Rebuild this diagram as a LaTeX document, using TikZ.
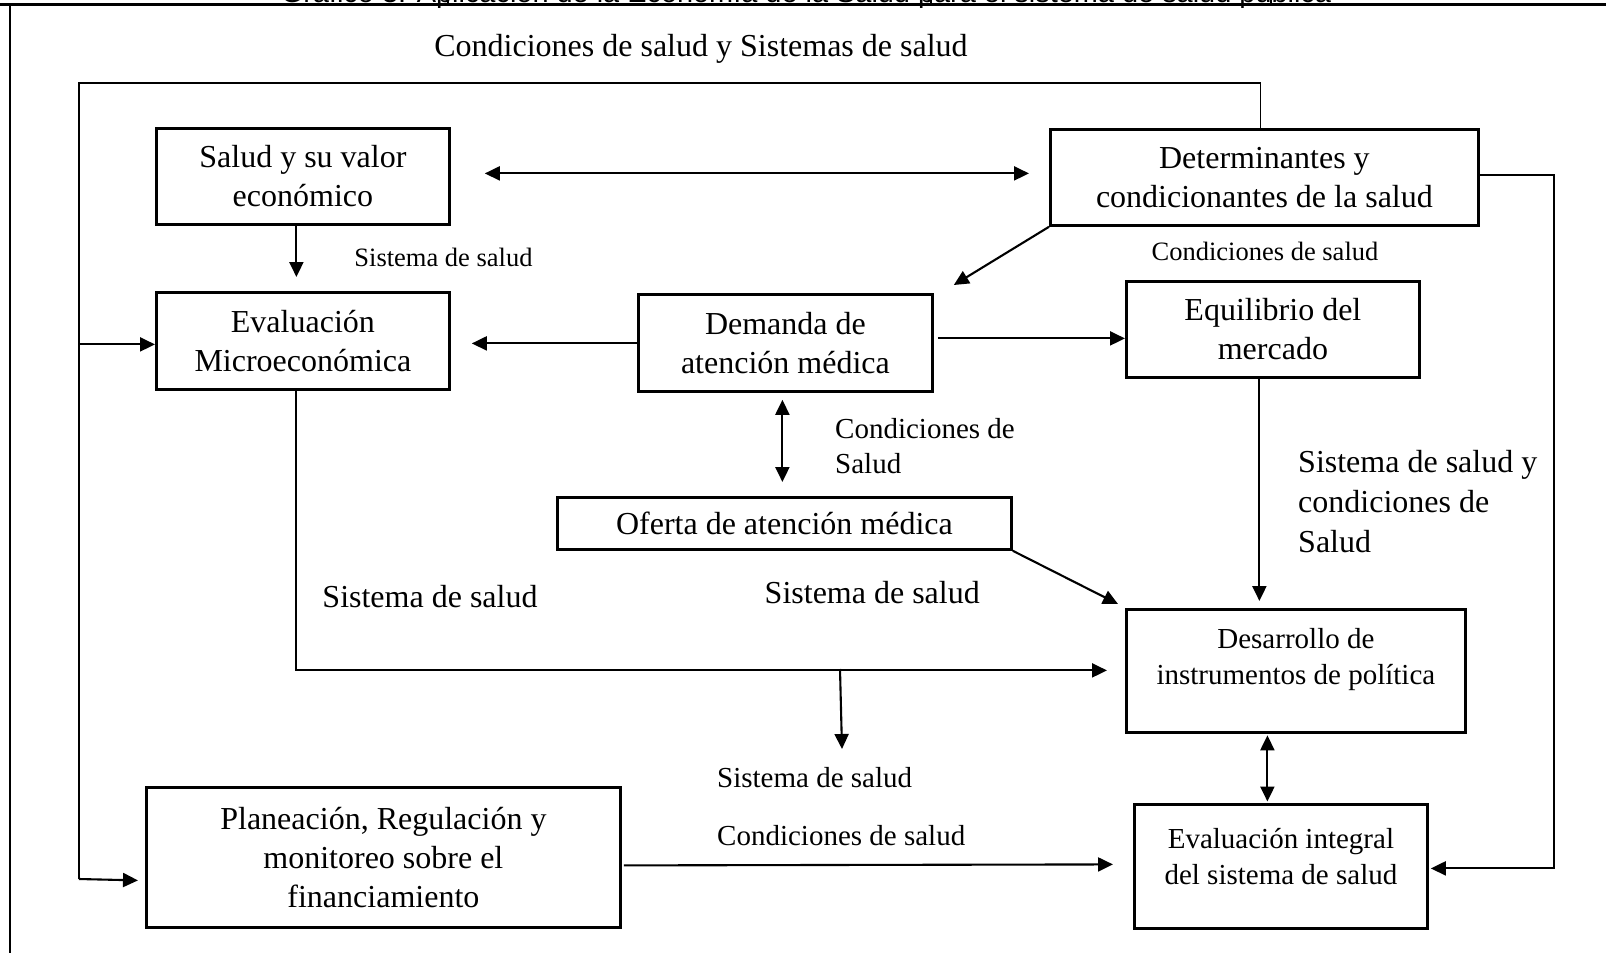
\documentclass[tikz,border=0pt]{standalone}
\usepackage{fontspec}
\setmainfont{Liberation Serif}
\newfontfamily\titlefont{Liberation Sans}
\usetikzlibrary{arrows.meta,calc}
\newcommand{\fsz}[2]{\fontsize{#1}{#2}\selectfont}
\begin{document}
\begin{tikzpicture}[x=1pt,y=-1pt,
  box/.style={draw, line width=2.8pt, inner sep=0pt, align=center, anchor=north west},
  big/.style={font=\fsz{32}{39}},
  bigl/.style={font=\fsz{32}{40}},
  mid/.style={font=\fsz{29}{36}},
  small/.style={font=\fsz{26.5}{32}},
  lbl/.style={inner sep=0pt, align=left},
  conn/.style={line width=2.1pt, -{Triangle[length=15pt,width=14pt]}},
  dconn/.style={line width=2.1pt, {Triangle[length=15pt,width=14pt]}-{Triangle[length=15pt,width=14pt]}},
  fbline/.style={line width=1.4pt}
]
\useasboundingbox (0,0) rectangle (1606,953);

% cropped title and frame
\node[inner sep=0pt, anchor=base, font=\titlefont] (title) at (806,2)
  {\resizebox{1050pt}{!}{Gráfico 3. Aplicación de la Economía de la Salud para el sistema de salud pública}};
\draw[line width=2.5pt] (0,4.5) -- (1606,4.5);
\draw[line width=2pt] (10,4.5) -- (10,953);
\foreach \tx in {448,931,1271} \draw[line width=2.5pt] (\tx,0) -- (\tx,4.5);

% boxes
\node[box, big, minimum width=293pt, minimum height=96pt] (sal) at (155,127) {Salud y su valor\\económico};
\node[box, big, minimum width=428pt, minimum height=96pt] (det) at (1049,128) {Determinantes y\\condicionantes de la salud};
\node[box, big, minimum width=293pt, minimum height=97pt] (evm) at (155,291) {Evaluación\\Microeconómica};
\node[box, big, minimum width=294pt, minimum height=97pt] (dem) at (637,293) {Demanda de\\atención médica};
\node[box, big, minimum width=293pt, minimum height=96pt] (equ) at (1125,280) {Equilibrio del\\mercado};
\node[box, big, minimum width=454pt, minimum height=52pt] (ofe) at (556,496) {Oferta de atención médica};
\node[box, minimum width=339pt, minimum height=123pt] (des) at (1125,608) {};
\node[mid, align=center, inner sep=0pt] (destxt) at ($(des.center)+(0,-11)$) {Desarrollo de\\instrumentos de política};
\node[box, minimum width=293pt, minimum height=124pt] (evi) at (1133,803) {};
\node[mid, align=center, inner sep=0pt] (evitxt) at ($(evi.center)+(0,-10)$) {Evaluación integral\\del sistema de salud};
\node[box, big, minimum width=474pt, minimum height=140pt] (pla) at (145,786) {Planeación, Regulación y\\monitoreo sobre el\\financiamiento};

% labels
\node[big, inner sep=0pt, anchor=base] (t1) at (701,56) {Condiciones de salud y Sistemas de salud};
\node[small, inner sep=0pt, anchor=base] (l2) at (443.5,266) {Sistema de salud};
\node[small, inner sep=0pt, anchor=base] (l3) at (1265,260) {Condiciones de salud};
\node[lbl, font=\fsz{29}{35}, anchor=west] (l4) at (835,446.5) {Condiciones de\\Salud};
\node[lbl, bigl, anchor=west] (l5) at (1298,502) {Sistema de salud y\\condiciones de\\Salud};
\node[big, inner sep=0pt, anchor=base] (l6) at (430,607) {Sistema de salud};
\node[big, inner sep=0pt, anchor=base east] (l7) at (980,603) {Sistema de salud};
\node[mid, inner sep=0pt, anchor=base west] (l8) at (717,787) {Sistema de salud};
\node[mid, inner sep=0pt, anchor=base west] (l9) at (717,845) {Condiciones de salud};

% connectors
\draw[dconn] ($(sal.east)+(34,-3)$) -- ($(det.west)+(-20,-4)$);
\draw[conn] ($(sal.south)+(-6.5,0)$) -- ($(evm.north)+(-6.5,-14)$);
\draw[conn] (det.south west) -- ($(dem.north east)+(20,-8)$);
\draw[conn] ($(dem.west)+(0,0.5)$) -- ($(evm.east)+(21,2.5)$);
\coordinate (a1) at ($(dem.east)+(4,-4.5)$);
\draw[conn] (a1) -- (a1 -| equ.west);
\draw[dconn] ($(dem.south)+(-3,7)$) -- ($(ofe.north)+(-2,-14)$);
\draw[conn] ($(equ.south)+(-13.5,0)$) -- ($(des.north)+(-36.5,-7)$);
\draw[conn] (ofe.south east) -- ($(des.north west)+(-7,-4)$);
\draw[conn] ($(evm.south)+(-6.5,0)$) |- ($(des.west)+(-18,-0.5)$);
\coordinate (br) at (840,669);
\coordinate (brend) at (842,749);
\draw[conn] (br) -- (brend);
\draw[conn] ($(pla.east)+(2,8)$) -- ($(evi.west)+(-20,-2)$);
\draw[dconn] ($(des.south)+(-28.5,1.5)$) -- ($(evi.north)+(-13.5,-1.5)$);
\draw[conn] ($(det.east)+(0,-2)$) -- ++(74,0) |- ($(evi.east)+(2,2)$);

% feedback loop
\coordinate (fbTL) at (79,83);
\coordinate (fbBL) at (79,879);
\draw[fbline] ($(det.north)+(-4,0)$) |- (fbTL) -- (fbBL);
\coordinate (fbM) at ($(evm.west)+(0,3.5)$);
\draw[conn] (fbTL |- fbM) -- (fbM);
\draw[conn] (fbBL) -- ($(pla.west)+(-7,23)$);
\end{tikzpicture}
\end{document}
